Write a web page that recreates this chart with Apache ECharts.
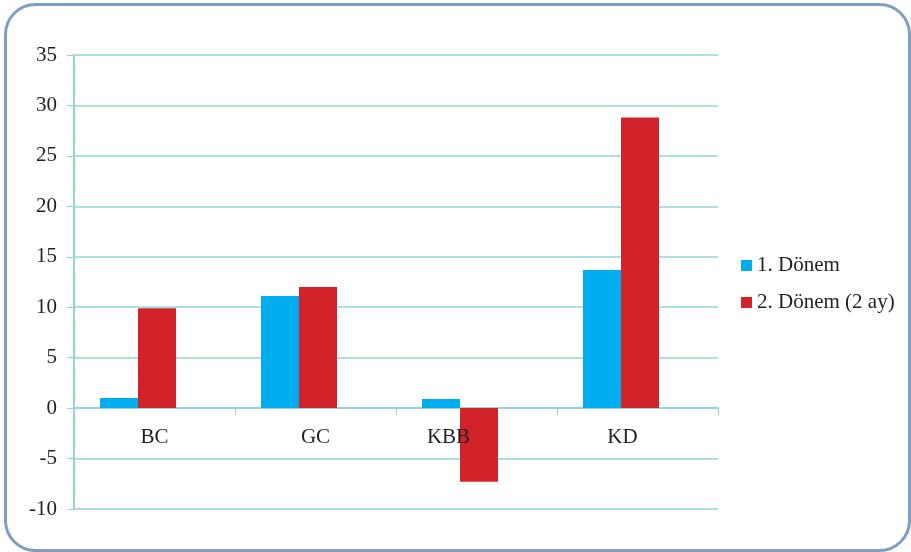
<!DOCTYPE html>
<html><head><meta charset="utf-8">
<script src="https://cdn.jsdelivr.net/npm/echarts@6/dist/echarts.min.js"></script>
<style>html,body{margin:0;padding:0;background:#fff}#c{width:911px;height:552px}</style>
</head><body><div id="c"></div>
<script>
const categories = ['BC', 'GC', 'KBB', 'KD'];
const seriesNames = ['1. Dönem', '2. Dönem (2 ay)'];
const donem1 = [1.0, 11.1, 0.9, 13.7];
const donem2 = [9.9, 12.0, -7.3, 28.8];
const spacer = [0, 0, 0, 0];

const font = "'Liberation Serif', 'Times New Roman', serif";
const txt = '#231F20';
const gridCol = '#92D5D2';
const labelShift = {KBB: 56, KD: 30};

const chart = echarts.init(document.getElementById('c'));
chart.setOption({
  animation: false,
  graphic: [{
    type: 'rect', left: 3, top: 2,
    shape: {x: 0, y: 0, width: 904, height: 546, r: 30},
    style: {fill: 'none', stroke: '#7F9EC1', lineWidth: 3}
  }],
  grid: {left: 74, right: 193, top: 55, bottom: 43},
  legend: {
    orient: 'vertical', left: 741, top: 255, padding: 0,
    itemWidth: 11, itemHeight: 11, itemGap: 16,
    icon: 'rect',
    textStyle: {fontFamily: font, fontSize: 21, color: txt},
    data: seriesNames
  },
  xAxis: [{
    type: 'category',
    data: categories,
    axisLine: {onZero: true, lineStyle: {color: gridCol, width: 2}},
    axisTick: {show: true, length: 7, inside: false, lineStyle: {color: gridCol}},
    axisLabel: {show: false}
  }, {
    type: 'category', position: 'bottom', z: 10,
    data: categories.map(c => labelShift[c] ? {value: c, textStyle: {padding: [0, labelShift[c], 0, 0]}} : c),
    axisLine: {show: false, onZero: false},
    axisTick: {show: false},
    axisLabel: {fontFamily: font, fontSize: 21, color: txt, margin: -82}
  }],
  yAxis: {
    type: 'value', min: -10, max: 35, interval: 5,
    axisLine: {show: true, lineStyle: {color: gridCol, width: 2}},
    axisTick: {show: true, length: 7, lineStyle: {color: gridCol}},
    splitLine: {lineStyle: {color: gridCol, width: 1.5}},
    axisLabel: {fontFamily: font, fontSize: 21, color: txt, margin: 17}
  },
  series: [
    {name: seriesNames[0], type: 'bar', data: donem1, barGap: '0%', barWidth: 38, itemStyle: {color: '#00AEEF'}},
    {name: seriesNames[1], type: 'bar', data: donem2, barGap: '0%', barWidth: 38, itemStyle: {color: '#D2232A'}},
    {name: 'spacer', type: 'bar', data: spacer, barGap: '0%', barWidth: 33, silent: true, itemStyle: {color: 'rgba(0,0,0,0)'}}
  ]
});
</script></body></html>
